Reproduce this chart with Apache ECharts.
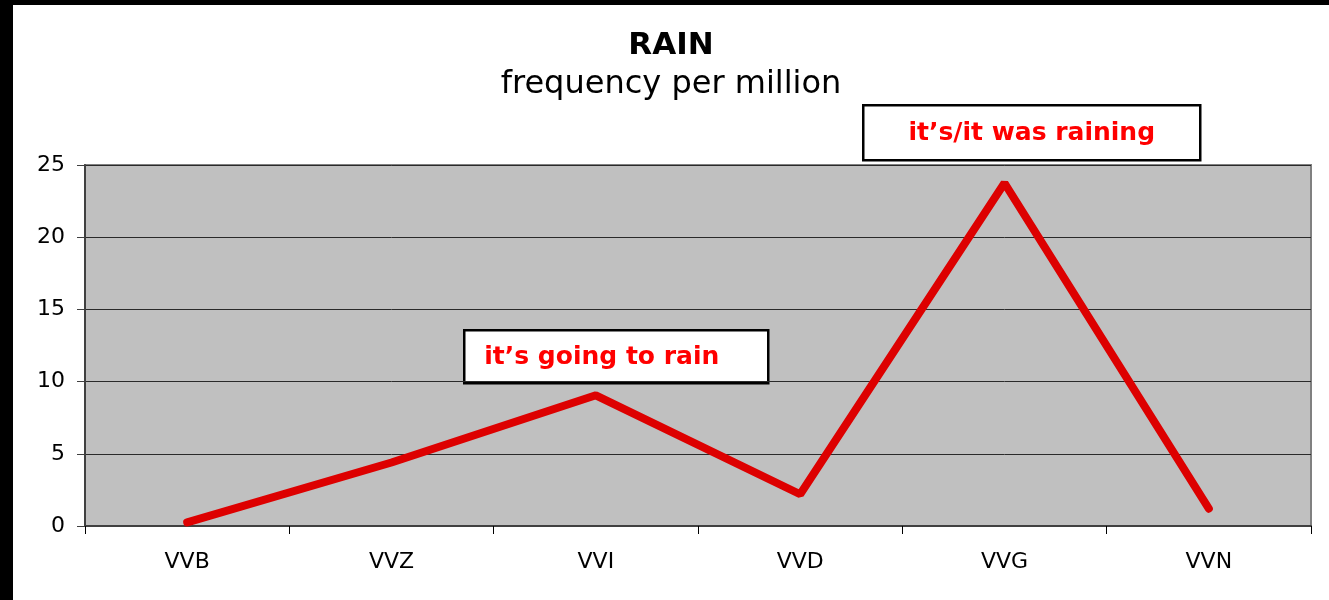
<!DOCTYPE html>
<html>
<head>
<meta charset="utf-8">
<script src="https://cdn.jsdelivr.net/npm/echarts@6/dist/echarts.min.js"></script>
<style>
  html, body { margin: 0; padding: 0; background: #000; }
  #container { position: absolute; left: 13px; top: 5px; width: 1316px; height: 595px; background: #fff; }
</style>
</head>
<body>
<div id="container"></div>
<script>
// data
var categories = ['VVB', 'VVZ', 'VVI', 'VVD', 'VVG', 'VVN'];
var frequency = [0.25, 4.4, 9.05, 2.2, 23.75, 1.2];
var yTicks = { min: 0, max: 25, interval: 5 };
var titleText = 'RAIN';
var subText = 'frequency per million';
var notes = ['it\u2019s going to rain', 'it\u2019s/it was raining'];

var dom = document.getElementById('container');
var myChart = echarts.init(dom);
var font = 'DejaVu Sans';

// annotation box: rect + red bold text (textX = null -> centred)
function noteBox(text, x, y, w, h, textX) {
    return {
        type: 'group',
        left: x,
        top: y,
        children: [
            {
                type: 'rect',
                shape: { x: 0, y: 0, width: w, height: h },
                style: { fill: '#fff', stroke: '#000', lineWidth: 2.5 }
            },
            {
                type: 'text',
                x: textX == null ? w / 2 : textX,
                y: h / 2 + 1,
                style: {
                    text: text,
                    fill: '#ff0000',
                    font: 'bold 25px "DejaVu Sans"',
                    align: textX == null ? 'center' : 'left',
                    verticalAlign: 'middle'
                }
            }
        ]
    };
}

myChart.setOption({
    animation: false,
    title: {
        text: titleText,
        subtext: subText,
        left: 'center',
        top: 20,
        itemGap: 8,
        textStyle: { fontFamily: font, fontWeight: 'bold', fontSize: 31, color: '#000' },
        subtextStyle: { fontFamily: font, fontSize: 32, color: '#000' }
    },
    grid: {
        left: 72,
        right: 18,
        top: 160,
        bottom: 74,
        show: true,
        backgroundColor: '#c0c0c0',
        borderColor: '#808080',
        borderWidth: 2
    },
    xAxis: {
        type: 'category',
        data: categories,
        boundaryGap: true,
        axisLine: { lineStyle: { color: '#404040', width: 2 } },
        axisTick: { show: true, length: 8, lineStyle: { color: '#000', width: 1 } },
        axisLabel: { fontFamily: font, fontSize: 22, color: '#000', margin: 25 },
        splitLine: { show: false }
    },
    yAxis: {
        type: 'value',
        min: yTicks.min,
        max: yTicks.max,
        interval: yTicks.interval,
        axisLine: { show: true, lineStyle: { color: '#404040', width: 2 } },
        axisTick: { show: true, length: 8, lineStyle: { color: '#404040', width: 1 } },
        axisLabel: { fontFamily: font, fontSize: 22, color: '#000', margin: 20 },
        splitLine: { show: true, lineStyle: { color: '#2a2a2a', width: 1 } }
    },
    series: [
        {
            type: 'line',
            data: frequency,
            symbol: 'none',
            lineStyle: { color: '#dd0000', width: 8, cap: 'round' },
            z: 5
        }
    ],
    graphic: [
        noteBox(notes[0], 450, 324, 304, 53, 20),
        noteBox(notes[1], 849, 99, 337, 55, null)
    ]
});

window.addEventListener('resize', function () {
    myChart.resize();
});
</script>
</body>
</html>
